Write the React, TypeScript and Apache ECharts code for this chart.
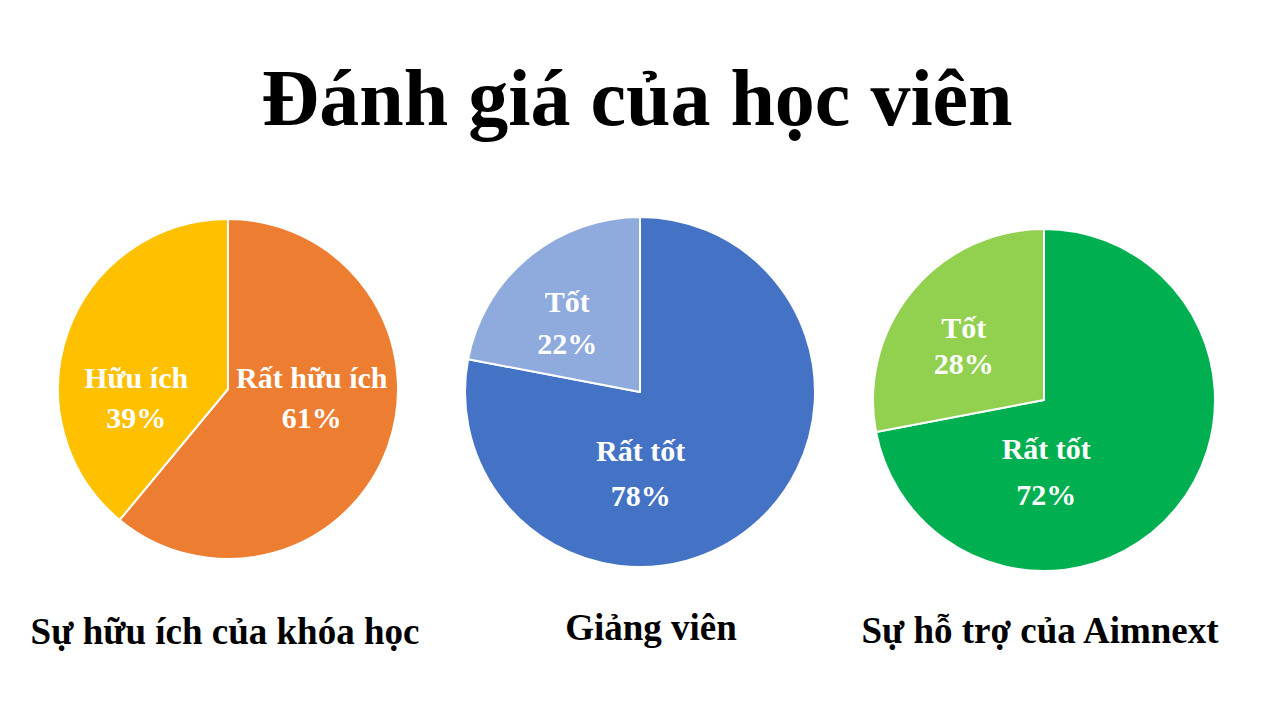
import React, { useEffect, useRef } from "react";
import * as echarts from "echarts";

const TITLE = "Đánh giá của học viên";

const pie1Names = ["Rất hữu ích", "Hữu ích"];
const pie1Values = [61, 39];
const pie1Title = "Sự hữu ích của khóa học";

const pie2Names = ["Rất tốt", "Tốt"];
const pie2Values = [78, 22];
const pie2Title = "Giảng viên";

const pie3Names = ["Rất tốt", "Tốt"];
const pie3Values = [72, 28];
const pie3Title = "Sự hỗ trợ của Aimnext";

const FONT = "'Liberation Serif', 'Times New Roman', serif";

const pieLayouts = [
  { center: [228, 389], radius: 170, colors: ["#ED7D31", "#FFC000"], lineHeights: [40, 40], shifts: [[1, -21], [-9, 38]], titleX: 225, titleY: 631 },
  { center: [640, 392], radius: 175, colors: ["#4472C4", "#8FAADC"], lineHeights: [45, 42], shifts: [[-57, 11], [-15, 0]], titleX: 651, titleY: 627 },
  { center: [1044, 400], radius: 171, colors: ["#00B050", "#92D050"], lineHeights: [46, 36], shifts: [[-66, 15], [-12, 2]], titleX: 1040, titleY: 630 },
];

export default function App() {
  const ref = useRef<HTMLDivElement>(null);
  useEffect(() => {
    if (!ref.current) return;
    const chart = echarts.init(ref.current, undefined, { renderer: "svg" });
    const sets = [
      { names: pie1Names, values: pie1Values, title: pie1Title },
      { names: pie2Names, values: pie2Values, title: pie2Title },
      { names: pie3Names, values: pie3Values, title: pie3Title },
    ];
    const series = sets.map((s, i) => {
      const L = pieLayouts[i];
      return {
        type: "pie",
        center: L.center,
        radius: L.radius,
        startAngle: 90,
        clockwise: true,
        silent: true,
        data: s.names.map((n, j) => ({
          name: n,
          value: s.values[j],
          itemStyle: { color: L.colors[j] },
          label: { lineHeight: L.lineHeights[j] },
        })),
        itemStyle: { borderColor: "#ffffff", borderWidth: 2 },
        label: {
          show: true,
          position: "inside",
          formatter: "{b}\n{c}%",
          color: "#ffffff",
          fontFamily: FONT,
          fontWeight: "bold",
          fontSize: 30,
          align: "center",
        },
        labelLine: { show: false },
        labelLayout: (p: any) => ({ dx: L.shifts[p.dataIndex][0], dy: L.shifts[p.dataIndex][1] }),
      };
    });
    const graphic: any[] = [
      {
        type: "text",
        x: 637,
        y: 98,
        style: { text: TITLE, fontSize: 80, fontWeight: "bold", fontFamily: FONT, fill: "#000", align: "center", verticalAlign: "middle" },
      },
      ...sets.map((s, i) => ({
        type: "text",
        x: pieLayouts[i].titleX,
        y: pieLayouts[i].titleY,
        style: { text: s.title, fontSize: 37, fontWeight: "bold", fontFamily: FONT, fill: "#000", align: "center", verticalAlign: "middle" },
      })),
    ];
    chart.setOption({
      animation: false,
      backgroundColor: "#ffffff",
      series,
      graphic,
    });
    return () => chart.dispose();
  }, []);
  return <div ref={ref} style={{ position: "absolute", left: 0, top: 0, width: 1280, height: 720 }} />;
}
